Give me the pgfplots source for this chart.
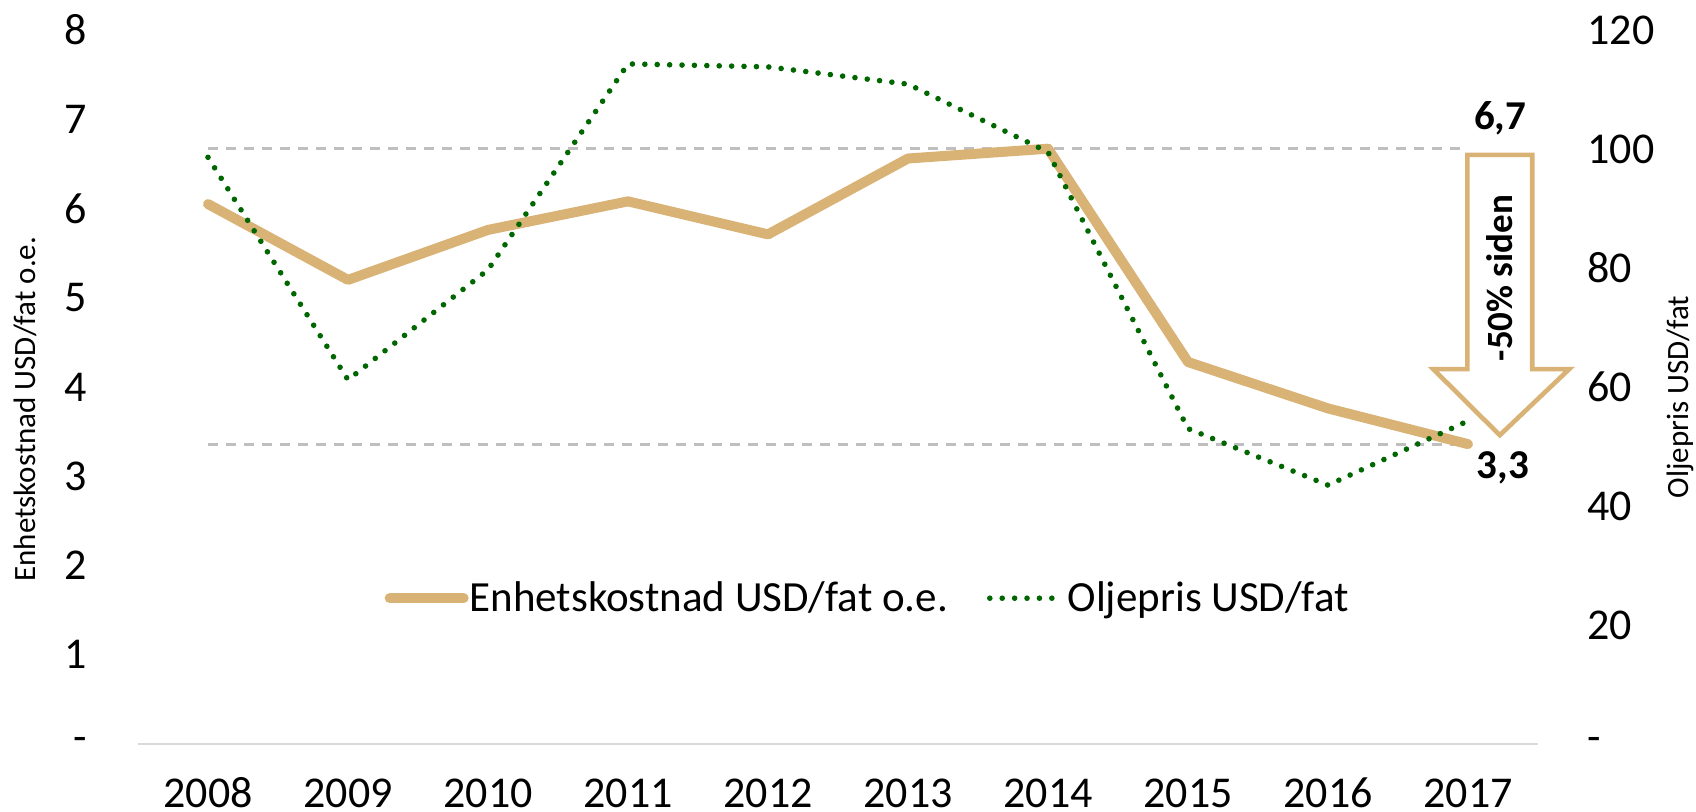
\documentclass[border=0pt]{standalone}
\usepackage{fontspec}
\setmainfont{Carlito}
\usepackage{pgfplots}
\pgfplotsset{compat=1.18}
\definecolor{tan}{RGB}{217,178,117}
\definecolor{oilgreen}{RGB}{0,102,0}
\definecolor{refgray}{RGB}{191,191,191}

\begin{document}
\begin{tikzpicture}
\path[use as bounding box] (-69pt,-34pt) rectangle (779pt,372pt);
\pgfplotsset{
  every axis/.append style={
    scale only axis, width=700pt, height=357pt,
    xmin=-0.5, xmax=9.5,
    clip=false,
    axis line style={draw=none},
    tick style={draw=none},
    ticklabel style={font=\fontsize{22}{26}\selectfont},
    /pgf/number format/assume math mode=true,
  }
}
% left axis: unit cost
\begin{axis}[
  ymin=0, ymax=8,
  ytick={0,1,2,3,4,5,6,7,8},
  yticklabels={-,1,2,3,4,5,6,7,8},
  yticklabel style={anchor=east, inner sep=0pt, xshift=-25.5pt},
  xtick={0,1,2,3,4,5,6,7,8,9},
  xticklabels={2008,2009,2010,2011,2012,2013,2014,2015,2016,2017},
  xticklabel style={anchor=base, inner sep=0pt, yshift=-32pt},
  extra y ticks={0},
  extra y tick labels={},
  extra y tick style={grid=major, major grid style={draw=black!15, line width=1pt}},
  ylabel={Enhetskostnad USD/fat o.e.},
  ylabel style={at={(axis description cs:-0.0807,0.469)}, anchor=center,
    font=\fontsize{15.5}{18}\selectfont},
]
\addplot[refgray, line width=1.5pt, dash pattern=on 5pt off 4pt] coordinates {(0,6.67) (9,6.67)};
\addplot[refgray, line width=1.5pt, dash pattern=on 5pt off 4pt] coordinates {(0,3.36) (9,3.36)};
\addplot[tan, line width=5pt, line join=round, line cap=round] coordinates {
  (0,6.05) (1,5.20) (2,5.76) (3,6.08) (4,5.71)
  (5,6.56) (6,6.67) (7,4.28) (8,3.76) (9,3.36)
};
\end{axis}
% right axis: oil price
\begin{axis}[
  ymin=0, ymax=120,
  ytick={0,20,40,60,80,100,120},
  yticklabels={-,20,40,60,80,100,120},
  yticklabel pos=right,
  yticklabel style={anchor=west, inner sep=0pt, xshift=24.5pt},
  xtick=\empty,
  ylabel={Oljepris USD/fat},
  ylabel style={at={(axis description cs:1.1014,0.486)}, anchor=center,
    font=\fontsize{15.5}{18}\selectfont},
  legend columns=2,
  legend cell align=left,
  legend image code/.code={\draw[#1] (0pt,0pt) -- (37pt,0pt);},
  legend style={at={(axis cs:1.259,24.5)}, anchor=west, draw=none, fill=none,
    inner sep=0pt, nodes={inner sep=0.5pt},
    font=\fontsize{21.5}{24}\selectfont,
    /tikz/every even column/.append style={column sep=19pt}},
]
\addlegendimage{tan, line width=5pt, line cap=round}
\addlegendentry{Enhetskostnad USD/fat o.e.}
\addplot[oilgreen, line width=2.8pt, line cap=round, dash pattern=on 0pt off 6.2pt] coordinates {
  (0,98.6) (1,61.2) (2,79.7) (3,114.3) (4,113.8)
  (5,110.9) (6,99.5) (7,53.0) (8,43.5) (9,54.3)
};
\addlegendentry{Oljepris USD/fat}
% arrow annotation
\draw[tan, line width=2.3pt, fill=white, line join=miter]
  (axis cs:8.995,99.0) -- (axis cs:9.459,99.0) -- (axis cs:9.459,63.0)
  -- (axis cs:9.723,63.0) -- (axis cs:9.227,51.9) -- (axis cs:8.752,63.0)
  -- (axis cs:8.995,63.0) -- cycle;
\node[font=\bfseries\fontsize{18.5}{20}\selectfont, rotate=90] at (axis cs:9.227,78.3) {-50\% siden};
\node[font=\bfseries\fontsize{20.5}{22}\selectfont] at (axis cs:9.23,105.2) {6,7};
\node[font=\bfseries\fontsize{20.5}{22}\selectfont] at (axis cs:9.25,46.4) {3,3};
\end{axis}
\end{tikzpicture}
\end{document}
